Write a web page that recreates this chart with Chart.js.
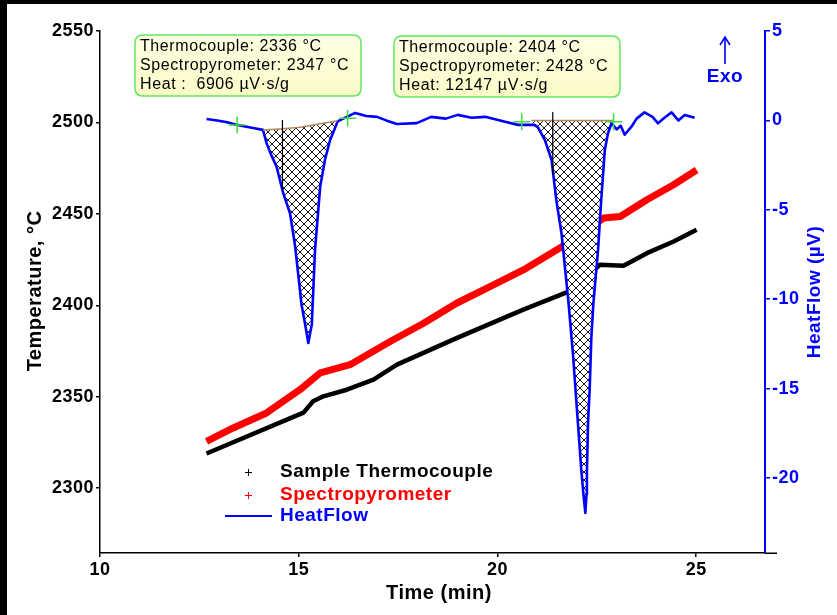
<!DOCTYPE html>
<html><head><meta charset="utf-8">
<script src="https://cdn.jsdelivr.net/npm/chart.js@4.4.1/dist/chart.umd.min.js"></script>
<style>html,body{margin:0;padding:0;background:#000;overflow:hidden}#wrap{position:absolute;left:0;top:0;width:837px;height:615px}</style>
</head><body><div id="wrap"><canvas id="c" width="837" height="615"></canvas></div>
<script>
// ---- data ----
const timeTicks = [10, 15, 20, 25];
const tempTicks = [2300, 2350, 2400, 2450, 2500, 2550];
const heatTicks = [-20, -15, -10, -5, 0, 5];

const thermoTime = [12.68, 15.12, 15.36, 15.62, 16.21, 16.88, 17.47, 18.97, 20.65, 21.74, 22.58, 23.17, 23.76, 24.43, 25.01];
const thermoTemp = [2318.9, 2341.3, 2347.5, 2350.2, 2353.8, 2359.3, 2367.5, 2382.0, 2397.6, 2407.0, 2422.1, 2421.6, 2428.5, 2434.9, 2441.3];

const spectroTime = [12.68, 13.35, 14.19, 15.03, 15.54, 16.29, 17.30, 18.13, 18.97, 19.81, 20.65, 21.62, 22.67, 23.09, 23.76, 24.43, 25.01];
const spectroTemp = [2325.6, 2332.9, 2341.1, 2353.8, 2363.0, 2367.5, 2380.2, 2390.0, 2401.1, 2410.2, 2419.3, 2432.0, 2447.7, 2448.5, 2457.7, 2465.9, 2474.0];

const heatTime = [12.68, 12.95, 13.2, 13.45, 13.85, 14.1, 14.19, 14.3, 14.44, 14.61, 14.78, 14.91, 15.07, 15.16, 15.24, 15.33, 15.35, 15.41, 15.54, 15.66, 15.79, 15.91, 15.98,
  16.21, 16.42, 16.7, 16.97, 17.2, 17.47, 17.97, 18.33, 18.7, 19.0, 19.35, 19.69, 20.19, 20.52, 20.77, 20.94,
  21.02, 21.19, 21.36, 21.48, 21.61, 21.78, 21.9, 21.99, 22.11, 22.17, 22.21, 22.24, 22.25, 22.28, 22.32, 22.36, 22.41, 22.53, 22.61, 22.7, 22.78, 22.87,
  23.0, 23.1, 23.2, 23.37, 23.5, 23.7, 23.9, 24.04, 24.2, 24.38, 24.55, 24.71, 24.96];
const heatValue = [0.08, 0.0, -0.1, -0.25, -0.42, -0.53, -1.27, -1.9, -2.58, -4.07, -5.19, -7.05, -10.3, -11.4, -12.45, -11.4, -10.3, -7.24, -3.7, -2.2, -1.09, -0.44, -0.05,
  0.2, 0.42, 0.25, 0.2, 0.0, -0.2, -0.15, 0.2, 0.1, 0.31, 0.15, 0.2, -0.08, -0.25, -0.25, -0.25,
  -0.4, -1.09, -2.21, -4.45, -6.31, -10.03, -13.1, -15.9, -19.6, -21.1, -21.95, -20.9, -19.6, -16.8, -15.0, -12.2, -10.3, -7.24, -4.45, -1.65, -0.72, -0.16,
  -0.5, -0.3, -0.8, -0.35, 0.1, 0.45, 0.2, -0.16, 0.15, 0.45, 0.0, 0.3, 0.15];

const base1Time = [14.1, 14.6, 15.03, 15.5, 15.98];
const base1Value = [-0.53, -0.47, -0.38, -0.2, -0.02];
const base2Time = [20.85, 22.9];
const base2Value = [0.0, 0.0];
const peak1Range = [14.1, 15.98];
const peak2Range = [20.94, 22.87];

const onsetTime = [14.59, 21.39];
const onsetTop = [0.0, 0.45];
const onsetBottom = [-3.8, -3.0];

const limitTime = [13.45, 16.23, 20.61, 22.92];
const limitValue = [-0.25, 0.12, -0.07, -0.07];

const box1Lines = ['Thermocouple: 2336 °C', 'Spectropyrometer: 2347 °C', 'Heat :  6906 µV·s/g'];
const box2Lines = ['Thermocouple: 2404 °C', 'Spectropyrometer: 2428 °C', 'Heat: 12147 µV·s/g'];
const legendLabels = ['Sample Thermocouple', 'Spectropyrometer', 'HeatFlow'];
const axisTitles = { x: 'Time (min)', y: 'Temperature, °C', y2: 'HeatFlow (µV)', exo: 'Exo' };

// ---- helpers ----
const FONT = "'Liberation Sans', Arial, sans-serif";
const pts = (xs, ys) => xs.map((x, i) => ({ x: x, y: ys[i] }));
const inRange = r => pts(heatTime, heatValue).filter(p => p.x >= r[0] && p.x <= r[1]);
const poly1 = inRange(peak1Range).concat(pts(base1Time, base1Value).reverse());
const poly2 = inRange(peak2Range).concat(pts(base2Time, base2Value).reverse());

const canvas = document.getElementById('c');
const mainCtx = canvas.getContext('2d');
function makeHatch() {
  const c = document.createElement('canvas');
  c.width = 8; c.height = 8;
  const g = c.getContext('2d');
  g.fillStyle = '#ffffff'; g.fillRect(0, 0, 8, 8);
  g.strokeStyle = '#000000'; g.lineWidth = 0.9;
  g.beginPath();
  g.moveTo(-1, -1); g.lineTo(9, 9);
  g.moveTo(9, -1); g.lineTo(-1, 9);
  g.stroke();
  return mainCtx.createPattern(c, 'repeat');
}
const hatch = makeHatch();

function rrect(ctx, x, y, w, h, r) {
  ctx.beginPath();
  ctx.moveTo(x + r, y);
  ctx.lineTo(x + w - r, y); ctx.quadraticCurveTo(x + w, y, x + w, y + r);
  ctx.lineTo(x + w, y + h - r); ctx.quadraticCurveTo(x + w, y + h, x + w - r, y + h);
  ctx.lineTo(x + r, y + h); ctx.quadraticCurveTo(x, y + h, x, y + h - r);
  ctx.lineTo(x, y + r); ctx.quadraticCurveTo(x, y, x + r, y);
  ctx.closePath();
}

const decor = {
  id: 'decor',
  beforeDraw(chart) {
    const ctx = chart.ctx;
    ctx.save();
    ctx.fillStyle = '#ffffff';
    ctx.fillRect(0, 0, chart.width, chart.height);
    ctx.fillStyle = '#000000';
    ctx.fillRect(0, 0, chart.width, 4);
    ctx.fillRect(0, 0, 7, chart.height);
    ctx.restore();
    ctx.letterSpacing = '0.5px';
  },
  afterDraw(chart) {
    const ctx = chart.ctx;
    const a = chart.chartArea;
    ctx.save();
    ctx.letterSpacing = '0.5px';
    // x axis line extension past right axis
    ctx.strokeStyle = '#000'; ctx.lineWidth = 1.5;
    ctx.beginPath(); ctx.moveTo(a.right, a.bottom + 0.25); ctx.lineTo(a.right + 12, a.bottom + 0.25); ctx.stroke();

    // axis titles
    ctx.textAlign = 'center'; ctx.textBaseline = 'middle';
    ctx.font = 'bold 20px ' + FONT;
    ctx.fillStyle = '#000';
    ctx.fillText(axisTitles.x, 439, 593);
    ctx.save(); ctx.translate(35, 291); ctx.rotate(-Math.PI / 2); ctx.fillText(axisTitles.y, 0, 0); ctx.restore();
    ctx.fillStyle = '#0000ff';
    ctx.font = 'bold 19px ' + FONT;
    ctx.save(); ctx.translate(815, 292); ctx.rotate(-Math.PI / 2); ctx.fillText(axisTitles.y2, 0, 0); ctx.restore();

    // Exo arrow
    ctx.strokeStyle = '#0000ff'; ctx.lineWidth = 1.6;
    ctx.beginPath();
    ctx.moveTo(725, 64); ctx.lineTo(725, 37);
    ctx.moveTo(720, 45); ctx.lineTo(725, 37); ctx.lineTo(730, 45);
    ctx.stroke();
    ctx.font = 'bold 19px ' + FONT;
    ctx.fillText(axisTitles.exo, 725, 77);

    // annotation boxes
    const boxes = [[135, 35, 226, 61, box1Lines], [394, 36, 226, 61, box2Lines]];
    for (const b of boxes) {
      rrect(ctx, b[0], b[1], b[2], b[3], 8);
      const gr = ctx.createLinearGradient(0, b[1], 0, b[1] + b[3]);
      gr.addColorStop(0, '#ffffe4'); gr.addColorStop(1, '#fbfbc8');
      ctx.fillStyle = gr; ctx.fill();
      ctx.strokeStyle = '#62e862'; ctx.lineWidth = 1.5; ctx.stroke();
      ctx.fillStyle = '#000'; ctx.textAlign = 'left';
      ctx.font = '16px ' + FONT;
      ctx.letterSpacing = '0.6px';
      b[4].forEach((t, i) => ctx.fillText(t, b[0] + 5, b[1] + 12 + i * 19));
      ctx.letterSpacing = '0.5px';
    }

    // legend
    ctx.font = 'bold 19px ' + FONT;
    ctx.textAlign = 'left';
    const lc = ['#000000', '#ff0000', '#0000ff'];
    const ly = [472, 495, 516];
    for (let i = 0; i < 3; i++) {
      ctx.strokeStyle = lc[i];
      if (i < 2) {
        ctx.lineWidth = 1;
        ctx.beginPath();
        ctx.moveTo(245, ly[i] + 0.5); ctx.lineTo(252, ly[i] + 0.5);
        ctx.moveTo(248.5, ly[i] - 3); ctx.lineTo(248.5, ly[i] + 4);
        ctx.stroke();
      } else {
        ctx.lineWidth = 2;
        ctx.beginPath(); ctx.moveTo(225, ly[i]); ctx.lineTo(272, ly[i]); ctx.stroke();
      }
      ctx.fillStyle = lc[i];
      ctx.fillText(legendLabels[i], 280, ly[i]);
    }
    ctx.restore();
  }
};

const common = { pointRadius: 0, pointHoverRadius: 0, tension: 0, borderJoinStyle: 'round', fill: false };

new Chart(canvas, {
  type: 'line',
  data: {
    datasets: [
      { label: 'limits', data: pts(limitTime, limitValue), yAxisID: 'y2', showLine: false,
        pointStyle: 'cross', pointRadius: 8.5, pointHoverRadius: 8.5, borderColor: '#40dc40', backgroundColor: '#40dc40', pointBorderWidth: 1.5 },
      Object.assign({ label: 'onset1', data: [{ x: onsetTime[0], y: onsetTop[0] }, { x: onsetTime[0], y: onsetBottom[0] }], yAxisID: 'y2', borderColor: '#000', borderWidth: 1.2 }, common),
      Object.assign({ label: 'onset2', data: [{ x: onsetTime[1], y: onsetTop[1] }, { x: onsetTime[1], y: onsetBottom[1] }], yAxisID: 'y2', borderColor: '#000', borderWidth: 1.2 }, common),
      Object.assign({ label: 'base1', data: pts(base1Time, base1Value), yAxisID: 'y2', borderColor: '#b4875c', borderWidth: 1.5 }, common),
      Object.assign({ label: 'base2', data: pts(base2Time, base2Value), yAxisID: 'y2', borderColor: '#b4875c', borderWidth: 1.5 }, common),
      Object.assign({ label: 'HeatFlow', data: pts(heatTime, heatValue), yAxisID: 'y2', borderColor: '#0000ff', borderWidth: 2.6 }, common),
      Object.assign({}, common, { label: 'hatch1', data: poly1, yAxisID: 'y2', fill: 'shape', backgroundColor: hatch, borderColor: 'rgba(0,0,0,0)', borderWidth: 0 }),
      Object.assign({}, common, { label: 'hatch2', data: poly2, yAxisID: 'y2', fill: 'shape', backgroundColor: hatch, borderColor: 'rgba(0,0,0,0)', borderWidth: 0 }),
      Object.assign({ label: 'Sample Thermocouple', data: pts(thermoTime, thermoTemp), yAxisID: 'y', borderColor: '#000000', borderWidth: 4.5 }, common),
      Object.assign({ label: 'Spectropyrometer', data: pts(spectroTime, spectroTemp), yAxisID: 'y', borderColor: '#ff0000', borderWidth: 7 }, common)
    ]
  },
  options: {
    responsive: false,
    animation: false,
    devicePixelRatio: 1,
    layout: { padding: { top: 31, left: 0, right: 0, bottom: 0 } },
    plugins: { legend: { display: false }, tooltip: { enabled: false }, title: { display: false } },
    events: [],
    scales: {
      x: {
        type: 'linear', position: 'bottom', min: 10, max: 26.73,
        afterBuildTicks: s => { s.ticks = timeTicks.map(v => ({ value: v })); },
        afterFit: s => { s.height = 62; },
        border: { display: true, color: '#000', width: 1.5 },
        grid: { drawOnChartArea: false, drawTicks: true, tickLength: 4, color: '#000', lineWidth: 1.5 },
        ticks: { color: '#000', font: { family: FONT, size: 18, weight: 'bold' }, padding: 2, maxRotation: 0, autoSkip: false, callback: v => String(v) }
      },
      y: {
        type: 'linear', position: 'left', min: 2264.5, max: 2550,
        afterBuildTicks: s => { s.ticks = tempTicks.map(v => ({ value: v })); },
        afterFit: s => { s.width = 100; },
        border: { display: true, color: '#000', width: 1.5 },
        grid: { drawOnChartArea: false, drawTicks: true, tickLength: 4, color: '#000', lineWidth: 1.5 },
        ticks: { color: '#000', font: { family: FONT, size: 18, weight: 'bold' }, padding: 2, autoSkip: false, callback: v => String(v) }
      },
      y2: {
        type: 'linear', position: 'right', min: -24.19, max: 5,
        afterBuildTicks: s => { s.ticks = heatTicks.map(v => ({ value: v })); },
        afterFit: s => { s.width = 72; },
        border: { display: true, color: '#0000ff', width: 2 },
        grid: { drawOnChartArea: false, drawTicks: true, tickLength: 5, color: '#0000ff', lineWidth: 1.5 },
        ticks: { color: '#0000ff', font: { family: FONT, size: 18, weight: 'bold' }, padding: 2, autoSkip: false, callback: v => String(v) }
      }
    }
  },
  plugins: [decor]
});
</script></body></html>
